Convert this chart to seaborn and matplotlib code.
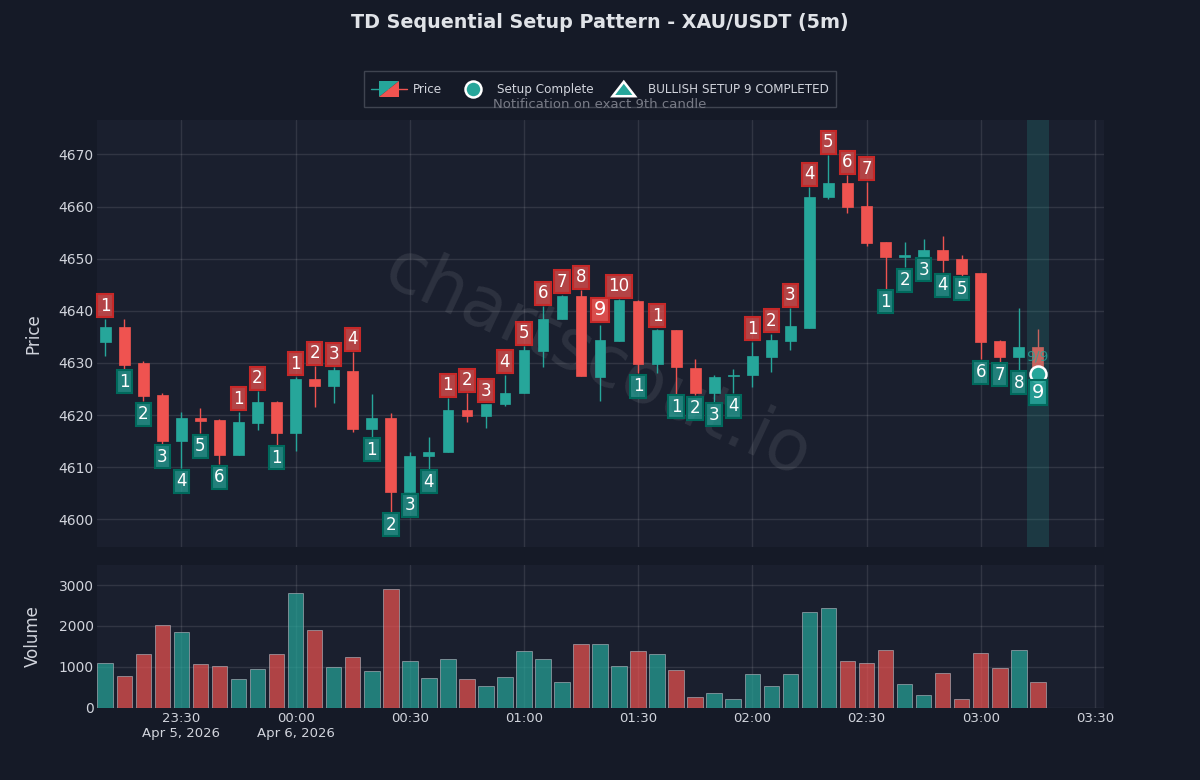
import matplotlib
matplotlib.use("Agg")
import matplotlib.pyplot as plt
import seaborn as sns
import pandas as pd
from matplotlib.legend_handler import HandlerBase
from matplotlib.lines import Line2D
from matplotlib.patches import Polygon

UP = "#26a69a"
DOWN = "#ef5350"
BG = "#151a27"
PANEL = "#1a1f2e"
TXT = "#d1d4dc"

opens = [4634.1, 4636.9, 4629.9, 4623.8, 4615.0, 4619.4, 4619.1, 4612.3, 4618.4, 4622.5,
         4616.5, 4627.0, 4625.6, 4628.5, 4617.4, 4619.5, 4605.2, 4612.1, 4612.9, 4621.0,
         4619.8, 4622.1, 4624.2, 4632.2, 4638.4, 4642.8, 4627.4, 4634.2, 4641.9, 4629.8,
         4636.3, 4629.1, 4624.2, 4627.5, 4627.7, 4631.1, 4634.2, 4636.8, 4661.9, 4664.5,
         4660.2, 4653.2, 4650.3, 4650.4, 4651.6, 4649.9, 4647.2, 4634.2, 4631.2, 4633.0]
highs = [4638.5, 4638.5, 4630.4, 4624.3, 4620.6, 4621.3, 4619.3, 4620.6, 4624.6, 4622.7,
         4627.4, 4629.4, 4629.2, 4632.1, 4624.1, 4620.4, 4612.9, 4615.8, 4623.2, 4624.2,
         4622.2, 4627.7, 4633.2, 4640.9, 4643.1, 4643.9, 4637.2, 4642.2, 4642.1, 4636.6,
         4636.4, 4630.7, 4627.7, 4628.9, 4634.1, 4635.6, 4640.5, 4663.7, 4669.8, 4666.0,
         4664.8, 4653.2, 4653.2, 4653.7, 4654.4, 4650.8, 4647.2, 4634.4, 4640.5, 4636.5]
lows = [4631.3, 4628.9, 4622.7, 4614.5, 4609.8, 4616.5, 4610.6, 4612.3, 4617.1, 4614.3,
        4613.2, 4621.6, 4622.3, 4616.7, 4615.8, 4601.5, 4605.2, 4609.7, 4612.9, 4618.7,
        4617.5, 4621.8, 4624.2, 4629.3, 4638.4, 4627.5, 4622.7, 4634.2, 4628.0, 4628.0,
        4624.1, 4623.8, 4622.6, 4624.2, 4625.4, 4628.2, 4632.5, 4636.8, 4661.5, 4658.7,
        4652.5, 4644.2, 4648.4, 4650.4, 4647.4, 4646.7, 4630.7, 4630.2, 4628.7, 4627.3]
closes = [4636.9, 4629.7, 4623.6, 4615.0, 4619.4, 4618.9, 4612.4, 4618.6, 4622.5, 4616.5,
          4627.0, 4625.6, 4628.7, 4617.4, 4619.5, 4605.2, 4612.1, 4613.0, 4621.0, 4619.8,
          4622.1, 4624.3, 4632.4, 4638.4, 4642.8, 4627.5, 4634.4, 4642.0, 4629.8, 4636.4,
          4629.2, 4624.3, 4627.4, 4627.7, 4631.3, 4634.4, 4637.0, 4661.9, 4664.5, 4659.9,
          4653.0, 4650.3, 4650.7, 4651.6, 4649.7, 4647.0, 4634.0, 4631.2, 4633.0, 4627.9]
volumes = [1092, 774, 1304, 2013, 1842, 1060, 1010, 693, 945, 1312,
           2795, 1891, 1002, 1247, 888, 2901, 1141, 725, 1182, 693,
           538, 750, 1394, 1190, 628, 1548, 1565, 1010, 1394, 1312,
           921, 269, 367, 204, 831, 538, 823, 2331, 2429, 1133,
           1084, 1410, 570, 310, 856, 204, 1345, 970, 1402, 619]
setup_side = ["S", "B", "B", "B", "B", "B", "B", "S", "S", "B",
              "S", "S", "S", "S", "B", "B", "B", "B", "S", "S",
              "S", "S", "S", "S", "S", "S", "S", "S", "B", "S",
              "B", "B", "B", "B", "S", "S", "S", "S", "S", "S",
              "S", "B", "B", "B", "B", "B", "B", "B", "B", "B"]
setup_count = [1, 1, 2, 3, 4, 5, 6, 1, 2, 1,
               1, 2, 3, 4, 1, 2, 3, 4, 1, 2,
               3, 4, 5, 6, 7, 8, 9, 10, 1, 1,
               1, 2, 3, 4, 1, 2, 3, 4, 5, 6,
               7, 1, 2, 3, 4, 5, 6, 7, 8, 9]
tick_pos = [4, 10, 16, 22, 28, 34, 40, 46, 52]
tick_labels = ["23:30\nApr 5, 2026", "00:00\nApr 6, 2026", "00:30", "01:00", "01:30",
               "02:00", "02:30", "03:00", "03:30"]

sns.set_theme(style="darkgrid", rc={
    "figure.facecolor": BG, "axes.facecolor": PANEL, "grid.color": "#ffffff",
    "text.color": TXT, "axes.labelcolor": TXT, "xtick.color": TXT, "ytick.color": TXT,
    "font.family": "DejaVu Sans",
    "axes.spines.left": False, "axes.spines.right": False,
    "axes.spines.top": False, "axes.spines.bottom": False})

W, H = 1200, 780
fig = plt.figure(figsize=(12, 7.8), dpi=100)
ax = fig.add_axes([97 / W, 1 - 547 / H, 1007 / W, 427 / H])
vax = fig.add_axes([97 / W, 1 - 707.5 / H, 1007 / W, 142.5 / H])

df = pd.DataFrame({"i": range(len(opens)), "open": opens, "high": highs, "low": lows,
                   "close": closes, "volume": volumes})
df["dir"] = ["up" if c >= o else "down" for o, c in zip(opens, closes)]
df["color"] = df["dir"].map({"up": UP, "down": DOWN})

ax.vlines(df["i"], df["low"], df["high"], colors=df["color"], linewidth=1.0, zorder=3)
ax.bar(df["i"], (df["close"] - df["open"]).abs().clip(lower=0.25),
       bottom=df[["open", "close"]].min(axis=1), width=0.56,
       color=df["color"], edgecolor=df["color"], linewidth=0.5, zorder=3)
ax.axvspan(49 - 0.58, 49 + 0.59, color=UP, alpha=0.2, lw=0, zorder=4)

ax.text(0.497, 0.43, "chartscout.io", transform=ax.transAxes, rotation=-25, fontsize=51,
        color="#ffffff", alpha=0.085, ha="center", va="center", zorder=1,
        rotation_mode="anchor")

for i, side, n in zip(df["i"], setup_side, setup_count):
    big = n == 9
    off = 15.5 if big else 13
    if side == "S":
        y, dy, face, edge = highs[i], off, DOWN, "#c62828"
    else:
        y, dy, face, edge = lows[i], -off, UP, "#00695c"
    fa = 0.9 if big else 0.72
    ax.annotate(str(n), (i, y), xytext=(0, dy), textcoords="offset pixels",
                ha="center", va="center", color="white", fontsize=14 if big else 12,
                zorder=7 if big else 6,
                bbox=dict(boxstyle="square,pad=0.15",
                          fc=matplotlib.colors.to_rgba(face, fa),
                          ec=edge, lw=1.5))

ax.plot([49], [closes[49]], marker="o", ms=11.5, mfc=UP, mec="white", mew=1.8, zorder=5, ls="")
ax.annotate("9/9", (49, closes[49]), xytext=(0, 17), textcoords="offset pixels", ha="center",
            va="center", color=UP, fontsize=10, alpha=0.8, zorder=6)

ax.set_xlim(-0.436, 52.48)
ax.set_ylim(4594.7, 4676.6)
ax.set_yticks([4600, 4610, 4620, 4630, 4640, 4650, 4660, 4670])
ax.set_xticks(tick_pos)
ax.tick_params(axis="x", labelbottom=False, length=0)
ax.tick_params(axis="y", length=0, labelsize=10, pad=2.5)
ax.set_xlabel("")
ax.set_ylabel("Price", fontsize=12)
ax.yaxis.set_label_coords(-0.0547, 0.5)
ax.grid(True, color="#ffffff", alpha=0.1, lw=1)
ax.set_axisbelow(True)

sns.barplot(data=df, x="i", y="volume", hue="dir", palette={"up": UP, "down": DOWN},
            native_scale=True, dodge=False, width=0.82, saturation=1, alpha=0.7,
            edgecolor="#b4b8c0", linewidth=0.6, legend=False, ax=vax, zorder=3)
vax.set_xlim(-0.436, 52.48)
vax.set_ylim(0, 3490)
vax.set_yticks([0, 1000, 2000, 3000])
vax.set_xticks(tick_pos)
vax.set_xticklabels(tick_labels)
vax.tick_params(axis="x", length=0, labelsize=9.5, pad=3)
vax.tick_params(axis="y", length=0, labelsize=10, pad=2.5)
vax.set_xlabel("")
vax.set_ylabel("Volume", fontsize=12)
vax.yaxis.set_label_coords(-0.0547, 0.5)
vax.grid(True, color="#ffffff", alpha=0.1, lw=1)
vax.set_axisbelow(True)


class SplitCandle(HandlerBase):
    def create_artists(self, legend, orig, xd, yd, w, h, fs, trans):
        x0, y0 = -xd, -yd
        cx, cy = x0 + w / 2, y0 + h / 2
        bw, bh = w * 0.55, fs * 1.34
        l, r, b, t = cx - bw / 2, cx + bw / 2, cy - bh / 2, cy + bh / 2
        return [Line2D([x0, cx], [cy, cy], color=UP, lw=1, transform=trans),
                Line2D([cx, x0 + w], [cy, cy], color=DOWN, lw=1, transform=trans),
                Polygon([(l, b), (l, t), (r, t)], closed=True, fc=UP, ec="none", transform=trans),
                Polygon([(l, b), (r, b), (r, t)], closed=True, fc=DOWN, ec="none", transform=trans)]


class WideTriangle(HandlerBase):
    def create_artists(self, legend, orig, xd, yd, w, h, fs, trans):
        x0, y0 = -xd, -yd
        cx, cy = x0 + w / 2, y0 + h / 2
        hw, hh = w * 0.31, fs * 0.6
        return [Polygon([(cx - hw, cy - hh), (cx + hw, cy - hh), (cx, cy + hh)], closed=True,
                        fc=UP, ec="white", lw=1.8, joinstyle="miter", transform=trans)]


class Dot(HandlerBase):
    def create_artists(self, legend, orig, xd, yd, w, h, fs, trans):
        cx, cy = -xd + w / 2, -yd + h / 2
        return [Line2D([cx], [cy], marker="o", ls="", ms=11.5, mfc=UP, mec="white", mew=1.8,
                       transform=trans)]


price_h = Line2D([], [], color=UP)
circle_h = Line2D([], [], color=UP)
tri_h = Line2D([], [], color=UP)
leg = fig.legend([price_h, circle_h, tri_h],
                 ["Price", "Setup Complete", "BULLISH SETUP 9 COMPLETED"],
                 handler_map={price_h: SplitCandle(), circle_h: Dot(), tri_h: WideTriangle()},
                 loc="center", bbox_to_anchor=(0.5, 1 - 89 / H), ncol=3, fontsize=8.65,
                 frameon=True, fancybox=False, facecolor=BG, edgecolor="#3f4450",
                 framealpha=1, handlelength=3.0, handleheight=2.52, handletextpad=0.55,
                 columnspacing=1.0, labelcolor=TXT, borderpad=0.55, borderaxespad=0)

fig.text(0.5, 1 - 22 / H, "TD Sequential Setup Pattern - XAU/USDT (5m)", ha="center",
         va="center", fontsize=13.8, fontweight="bold", color="#e0e3e8")
fig.text(0.5, 1 - 104 / H, "Notification on exact 9th candle", ha="center", va="center",
         fontsize=9.5, color="#787b86", zorder=10)

fig.savefig("out.png", dpi=100, facecolor=BG)
